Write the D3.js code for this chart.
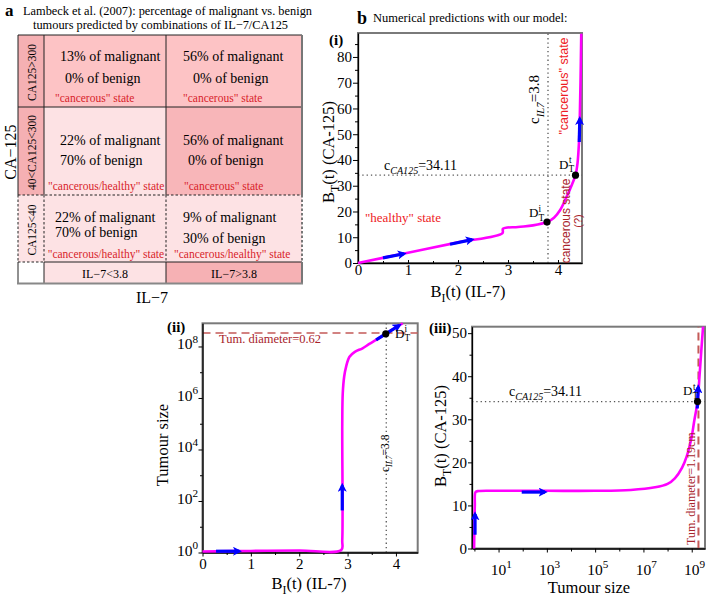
<!DOCTYPE html>
<html><head><meta charset="utf-8">
<script src="https://cdn.jsdelivr.net/npm/d3@7"></script>
<style>body{margin:0;background:#fff}svg{display:block}</style>
</head><body><svg id="c" width="710" height="600"></svg>
<script>
// ---------------- DATA ----------------
const rowLabels = ["CA125>300", "40<CA125<300", "CA125<40"];
const colLabels = ["IL−7<3.8", "IL−7>3.8"];
const malignantPct = [[13, 56], [22, 56], [22, 9]];
const benignPct = [[0, 0], [70, 0], [70, 30]];
const stateLabels = [
  ['"cancerous" state', '"cancerous" state'],
  ['"cancerous/healthy" state', '"cancerous" state'],
  ['"cancerous/healthy" state', '"cancerous/healthy" state']
];

// panel (i): B_I (IL-7) vs B_T (CA-125)
const curveI = [[0,0],[1,4],[2,8],[2.89,11.6],[2.9,13.3],[3.2,14],[3.5,14.6],[3.78,15.9],[3.92,17.6],[4.04,20.5],[4.17,25.6],[4.28,30.5],[4.35,34.11],[4.39,38.7],[4.42,47],[4.435,56],[4.45,70],[4.465,89]];
const arrowsI = [[[0.5,2.0],[0.92,3.6]], [[1.84,7.3],[2.28,9.1]], [[4.425,47],[4.435,56]]];
const xTicksI = [0, 1, 2, 3, 4];
const xMinorI = [0.5, 1.5, 2.5, 3.5];
const yTicksI = [0, 10, 20, 30, 40, 50, 60, 70, 80];
const yMinorI = [5, 15, 25, 35, 45, 55, 65, 75, 85];

// panel (ii): B_I (IL-7) vs tumour size
const curveII = [[0,1.1],[1,1.15],[2,1.2],[2.87,1.25],[2.89,3],[2.89,1e5],[2.9,1.5e6],[2.93,6.8e6],[2.97,1.66e7],[3.04,4e7],[3.15,6.2e7],[3.31,8.5e7],[3.45,1.26e8],[3.59,1.8e8],[3.79,3.1e8],[3.95,4.8e8],[4.07,6.6e8],[4.14,7.9e8]];
const arrowsII = [[[0.28,1.12],[0.76,1.12]], [[2.89,43],[2.89,400]], [[3.59,1.8e8],[4.07,6.6e8]]];
const xTicksII = [0, 1, 2, 3, 4];
const xMinorII = [0.5, 1.5, 2.5, 3.5];
const yTicksII = [1, 1e2, 1e4, 1e6, 1e8];
const yExpII = [0, 2, 4, 6, 8];
const yMinorII = [10, 1e3, 1e5, 1e7];

// panel (iii): tumour size vs B_T (CA-125)
const curveIII = [[0.97,0],[1.0,5],[1.04,10],[1.12,13.1],[1.5,13.35],[10,13.4],[1e3,13.4],[1e5,13.4],[3e6,13.6],[3e7,14.2],[1e8,15],[2e8,16.3],[4e8,18.8],[6.3e8,21.5],[1e9,26],[1.26e9,29.5],[1.74e9,34.11],[2.1e9,40],[2.5e9,46],[2.95e9,51.5]];
const arrowsIII = [[[1.06,3.2],[1.06,8]], [[91,13.1],[840,13.1]], [[1.7e9,32.5],[1.86e9,37.5]]];
const xTicksIII = [10, 1e3, 1e5, 1e7, 1e9];
const xExpIII = [1, 3, 5, 7, 9];
const xMinorIII = [1, 1e2, 1e4, 1e6, 1e8];
const yTicksIII = [0, 10, 20, 30, 40, 50];
const yMinorIII = [5, 15, 25, 35, 45];

// thresholds / marked points
const cIL7 = 3.8;
const cCA125 = 34.11;
const tumSize062 = 3.3e8;
const tumSize119 = 1.9e9;
const DiI = [3.78, 15.9];
const DtI = [4.35, 34.11];
const DiII = [3.79, 3.1e8];
const DtIII = [1.74e9, 34.11];

// ---------------- STYLE ----------------
const SERIF = '"Liberation Serif","Times New Roman",serif';
const SANS = '"Liberation Sans",Arial,sans-serif';
const MAG = '#ff00ff', BLUE = '#0000ff', RED = '#ee1c25', DRED = '#a8232b', TRED = '#d81e2a';

const svg = d3.select('#c');
svg.attr('font-family', SERIF);
const defs = svg.append('defs');
defs.append('marker').attr('id','ah').attr('viewBox','0 0 10 10').attr('refX',7).attr('refY',5)
  .attr('markerWidth',9).attr('markerHeight',9).attr('markerUnits','userSpaceOnUse').attr('orient','auto')
  .append('path').attr('d','M0,0 L10,5 L0,10 L2.5,5 Z').attr('fill',BLUE);

function rich(sel, parts, size) {
  let cur = 0;
  parts.forEach(p => {
    const target = p.s === 'sub' ? size * 0.3 : p.s === 'sup' ? -size * 0.42 : 0;
    const ts = sel.append('tspan').text(p.t).attr('dy', target - cur);
    if (p.s) ts.attr('font-size', size * 0.72);
    if (p.i) ts.attr('font-style', 'italic');
    if (p.dx) ts.attr('dx', p.dx);
    cur = target;
  });
  return sel;
}
function text(g, x, y, str, o = {}) {
  const t = g.append('text').attr('x', x).attr('y', y)
    .attr('font-size', o.size || 14).attr('font-family', o.font || SERIF)
    .attr('fill', o.fill || '#000').attr('text-anchor', o.anchor || 'start');
  if (o.bold) t.attr('font-weight', 'bold');
  if (o.rot) t.attr('x', 0).attr('y', 0).attr('transform', `translate(${x},${y}) rotate(${o.rot})`);
  if (o.len) t.attr('textLength', o.len).attr('lengthAdjust', 'spacingAndGlyphs');
  if (Array.isArray(str)) rich(t, str, o.size || 14); else t.text(str);
  return t;
}

// ---------------- PANEL a : TABLE ----------------
const ta = svg.append('g');
text(ta, 5, 16, 'a', {size: 17, bold: true});
text(ta, 23, 15, 'Lambeck et al. (2007): percentage of malignant vs. benign', {size: 12.5, len: 289});
text(ta, 33, 28.5, 'tumours predicted by combinations of IL−7/CA125', {size: 12.5, len: 255});

const TX = [18, 44, 166, 302];
const TY = [35, 107, 195, 262, 283];
const headFill = ['#f5b0b3', '#f5b0b3', '#fde3e5', '#ffffff'];
const cellFill = [['#fdc3c5', '#fdc3c5'], ['#fde2e4', '#f8b6b9'], ['#fde2e4', '#fde2e4'], ['#fde2e4', '#f6b1b4']];
for (let r = 0; r < 4; r++) {
  ta.append('rect').attr('x', TX[0]).attr('y', TY[r]).attr('width', TX[1]-TX[0]).attr('height', TY[r+1]-TY[r]).attr('fill', headFill[r]);
  for (let c = 0; c < 2; c++)
    ta.append('rect').attr('x', TX[c+1]).attr('y', TY[r]).attr('width', TX[c+2]-TX[c+1]).attr('height', TY[r+1]-TY[r]).attr('fill', cellFill[r][c]);
}
function ln(x1, y1, x2, y2, dash, col, w) {
  ta.append('line').attr('x1',x1).attr('y1',y1).attr('x2',x2).attr('y2',y2)
    .attr('stroke', col || '#222').attr('stroke-width', w || 1).attr('stroke-dasharray', dash ? '2.5,2' : null);
}
ln(18,35,302,35); ln(18,107,302,107); ln(18,195,302,195,true); ln(18,262,44,262,true); ln(44,262,302,262);
TX.forEach((x, i) => {
  const col = i === 3 ? '#777' : '#222', w = i === 3 ? 2 : 1;
  ln(x,35,x,195,false,col,w); ln(x,195,x,262,true,col,w); ln(x,262,x,283,false,col,w);
});
ln(17,283.5,303,283.5,false,'#888',2);

// cell texts (layout offsets per cell)
const lay = [
  [{m:[16,26], b:[21,48], s:[11,67]}, {m:[17,26], b:[27,48], s:[17,67]}],
  [{m:[16,38], b:[16,58], s:[4,83]},  {m:[17,38], b:[22,58], s:[18,83]}],
  [{m:[11,27], b:[11,42], s:[3.7,63]}, {m:[17,27], b:[17,48], s:[8,63]}]
];
for (let r = 0; r < 3; r++) for (let c = 0; c < 2; c++) {
  const L = lay[r][c], x0 = TX[c+1], y0 = TY[r];
  text(ta, x0 + L.m[0], y0 + L.m[1], `${malignantPct[r][c]}% of malignant`, {size: 14});
  text(ta, x0 + L.b[0], y0 + L.b[1], `${benignPct[r][c]}% of benign`, {size: 14});
  text(ta, x0 + L.s[0], y0 + L.s[1], stateLabels[r][c], {size: 11.5, fill: TRED});
}
rowLabels.forEach((lab, r) => text(ta, 35.5, (TY[r] + TY[r+1]) / 2 + 1.5, lab, {size: 11.5, rot: -90, anchor: 'middle'}));
colLabels.forEach((lab, c) => text(ta, (TX[c+1] + TX[c+2]) / 2, 277.5, lab, {size: 12, anchor: 'middle'}));
text(ta, 16, 152, 'CA−125', {size: 16, rot: -90, anchor: 'middle'});
text(ta, 152, 303, 'IL−7', {size: 16, anchor: 'middle'});

// ---------------- helpers for plots ----------------
function frame(g, x0, y0, x1, y1) {
  g.append('rect').attr('x', x0).attr('y', y0).attr('width', x1 - x0).attr('height', y1 - y0)
    .attr('fill', 'none').attr('stroke', '#7a7a7a').attr('stroke-width', 2);
}
function styleAxis(a, size) {
  a.attr('font-family', SERIF).attr('font-size', size || 15);
  a.select('.domain').attr('stroke', '#000').attr('stroke-width', 1.3);
  a.selectAll('.tick line').attr('stroke', '#000');
  a.selectAll('.tick text').attr('fill', '#000');
}
function minor(a) { a.select('.domain').remove(); a.selectAll('line').attr('stroke', '#000'); }
function curve(g, data, x, y) {
  g.append('path').datum(data).attr('fill', 'none').attr('stroke', MAG).attr('stroke-width', 2.6)
    .attr('d', d3.line().x(d => x(d[0])).y(d => y(d[1])).curve(d3.curveCatmullRom.alpha(0.5)));
}
function arrows(g, list, x, y) {
  list.forEach(a => g.append('line')
    .attr('x1', x(a[0][0])).attr('y1', y(a[0][1])).attr('x2', x(a[1][0])).attr('y2', y(a[1][1]))
    .attr('stroke', BLUE).attr('stroke-width', 3.2).attr('marker-end', 'url(#ah)'));
}
function dot(g, p, x, y) {
  g.append('circle').attr('cx', x(p[0])).attr('cy', y(p[1])).attr('r', 3.6).attr('fill', '#000');
}
function dotted(g, x1, y1, x2, y2) {
  g.append('line').attr('x1', x1).attr('y1', y1).attr('x2', x2).attr('y2', y2)
    .attr('stroke', '#555').attr('stroke-width', 1.3).attr('stroke-dasharray', '1.3,3');
}
function dashed(g, x1, y1, x2, y2, w) {
  g.append('line').attr('x1', x1).attr('y1', y1).attr('x2', x2).attr('y2', y2)
    .attr('stroke', '#c45a58').attr('stroke-width', w || 1.6).attr('stroke-dasharray', '8,5');
}
function DT(g, x, y, sup, size) {
  size = size || 13;
  text(g, x, y, [{t: 'D'}, {t: 'T', s: 'sub'}, {t: sup, s: 'sup', dx: -(size * 0.72 * 0.61 + size*0.72*0.28) / 2 - 1}], {size});
}

// ---------------- PANEL b (i) ----------------
const g1 = svg.append('g');
text(g1, 357, 24, 'b', {size: 18, bold: true});
text(g1, 373, 22, 'Numerical predictions with our model:', {size: 12.5});
const x1 = d3.scaleLinear().domain([0, 4.48]).range([358, 582]);
const y1 = d3.scaleLinear().domain([0, 89.3]).range([263, 33]);
frame(g1, 358, 33, 582, 263);
dotted(g1, x1(cIL7), 263, x1(cIL7), 33);
dotted(g1, 358, y1(cCA125), 582, y1(cCA125));
let ax = g1.append('g').attr('transform', 'translate(0,263)')
  .call(d3.axisBottom(x1).tickValues(xTicksI).tickSize(-3).tickSizeOuter(0).tickPadding(1).tickFormat(d3.format('d')));
styleAxis(ax);
g1.append('g').attr('transform', 'translate(0,263)').call(d3.axisBottom(x1).tickValues(xMinorI).tickSize(-2).tickFormat('')).call(minor);
ax = g1.append('g').attr('transform', 'translate(358,0)')
  .call(d3.axisLeft(y1).tickValues(yTicksI).tickSize(5).tickSizeOuter(0).tickPadding(1));
styleAxis(ax);
g1.append('g').attr('transform', 'translate(358,0)').call(d3.axisLeft(y1).tickValues(yMinorI).tickSize(3).tickFormat('')).call(minor);
curve(g1, curveI, x1, y1);
arrows(g1, arrowsI, x1, y1);
dot(g1, DiI, x1, y1); dot(g1, DtI, x1, y1);
DT(g1, 529, 217, 'i');
DT(g1, 559, 168.5, 't');
text(g1, 384, 170, [{t: 'c'}, {t: 'CA125', s: 'sub', i: true}, {t: '=34.11'}], {size: 14});
text(g1, 539, 124, [{t: 'c'}, {t: 'IL7', s: 'sub', i: true}, {t: '=3.8'}], {size: 15, rot: -90});
text(g1, 567.5, 86, '"cancerous" state', {size: 12.5, font: SANS, fill: RED, rot: -90, anchor: 'middle'});
text(g1, 569.5, 221, 'cancerous state', {size: 12, font: SANS, fill: DRED, rot: -90, anchor: 'middle'});
text(g1, 582, 221, '(?)', {size: 11, font: SANS, fill: DRED, rot: -90, anchor: 'middle'});
text(g1, 365, 222, '"healthy" state', {size: 13, fill: RED});
text(g1, 329, 45, '(i)', {size: 15, bold: true});
text(g1, 468, 297, [{t: 'B'}, {t: 'I', s: 'sub'}, {t: '(t) (IL-7)'}], {size: 16.5, anchor: 'middle'});
text(g1, 334, 152, [{t: 'B'}, {t: 'T', s: 'sub'}, {t: '(t) (CA-125)'}], {size: 16.5, rot: -90, anchor: 'middle'});

// ---------------- PANEL (ii) ----------------
const g2 = svg.append('g');
const x2 = d3.scaleLinear().domain([0, 4.45]).range([202.5, 417.7]);
const y2 = d3.scaleLog().domain([1, Math.pow(10, 8.9)]).range([552.5, 323.3]);
frame(g2, 202.5, 323.3, 417.7, 552.5);
dotted(g2, x2(cIL7), 552.5, x2(cIL7), 323.3);
dashed(g2, 202.5, y2(tumSize062), 417.7, y2(tumSize062), 1.5);
ax = g2.append('g').attr('transform', 'translate(0,552.5)')
  .call(d3.axisBottom(x2).tickValues(xTicksII).tickSize(4).tickSizeOuter(0).tickPadding(2).tickFormat(d3.format('d')));
styleAxis(ax);
g2.append('g').attr('transform', 'translate(0,552.5)').call(d3.axisBottom(x2).tickValues(xMinorII).tickSize(2.5).tickFormat('')).call(minor);
ax = g2.append('g').attr('transform', 'translate(202.5,0)')
  .call(d3.axisLeft(y2).tickValues(yTicksII).tickSize(4).tickSizeOuter(0).tickFormat(''));
styleAxis(ax);
g2.append('g').attr('transform', 'translate(202.5,0)').call(d3.axisLeft(y2).tickValues(yMinorII).tickSize(2.5).tickFormat('')).call(minor);
yTicksII.forEach((v, i) => text(g2, 198, y2(v) + 3, [{t: '10'}, {t: String(yExpII[i]), s: 'sup'}], {size: 15.5, anchor: 'end'}));
curve(g2, curveII, x2, y2);
arrows(g2, arrowsII, x2, y2);
dot(g2, DiII, x2, y2);
DT(g2, 395, 337.5, 'i');
text(g2, 219, 343, 'Tum. diameter=0.62', {size: 12.5, fill: DRED});
text(g2, 389, 472, [{t: 'c'}, {t: 'IL7', s: 'sub', i: true}, {t: '=3.8'}], {size: 11.5, rot: -90});
text(g2, 167, 332, '(ii)', {size: 15, bold: true});
text(g2, 309, 589, [{t: 'B'}, {t: 'I', s: 'sub'}, {t: '(t) (IL-7)'}], {size: 16.5, anchor: 'middle'});
text(g2, 168, 445, 'Tumour size', {size: 16.5, rot: -90, anchor: 'middle'});

// ---------------- PANEL (iii) ----------------
const g3 = svg.append('g');
const x3 = d3.scaleLog().domain([Math.pow(10, -0.1), Math.pow(10, 9.55)]).range([472, 705]);
const y3 = d3.scaleLinear().domain([0, 51.5]).range([548.5, 326.7]);
frame(g3, 472, 326.7, 705, 548.5);
dotted(g3, 472, y3(cCA125), 705, y3(cCA125));
dashed(g3, x3(tumSize119), 548.5, x3(tumSize119), 326.7, 2);
ax = g3.append('g').attr('transform', 'translate(0,548.5)')
  .call(d3.axisBottom(x3).tickValues(xTicksIII).tickSize(4).tickSizeOuter(0).tickFormat(''));
styleAxis(ax);
g3.append('g').attr('transform', 'translate(0,548.5)').call(d3.axisBottom(x3).tickValues(xMinorIII).tickSize(3).tickFormat('')).call(minor);
xTicksIII.forEach((v, i) => text(g3, x3(v) - 7.8, 575, [{t: '10'}, {t: String(xExpIII[i]), s: 'sup'}], {size: 15.5}));
ax = g3.append('g').attr('transform', 'translate(472,0)')
  .call(d3.axisLeft(y3).tickValues(yTicksIII).tickSize(4).tickSizeOuter(0).tickPadding(1));
styleAxis(ax);
g3.append('g').attr('transform', 'translate(472,0)').call(d3.axisLeft(y3).tickValues(yMinorIII).tickSize(2.5).tickFormat('')).call(minor);
curve(g3, curveIII, x3, y3);
arrows(g3, arrowsIII, x3, y3);
dot(g3, DtIII, x3, y3);
DT(g3, 683, 395, 't');
text(g3, 509, 396, [{t: 'c'}, {t: 'CA125', s: 'sub', i: true}, {t: '=34.11'}], {size: 14});
text(g3, 695, 545, 'Tum. diameter=1.19cm', {size: 12, fill: DRED, rot: -90});
text(g3, 429, 333, '(iii)', {size: 15, bold: true});
text(g3, 589, 593, 'Tumour size', {size: 16.5, anchor: 'middle'});
text(g3, 446, 436, [{t: 'B'}, {t: 'T', s: 'sub'}, {t: '(t) (CA-125)'}], {size: 16.5, rot: -90, anchor: 'middle'});
</script>
</body></html>
